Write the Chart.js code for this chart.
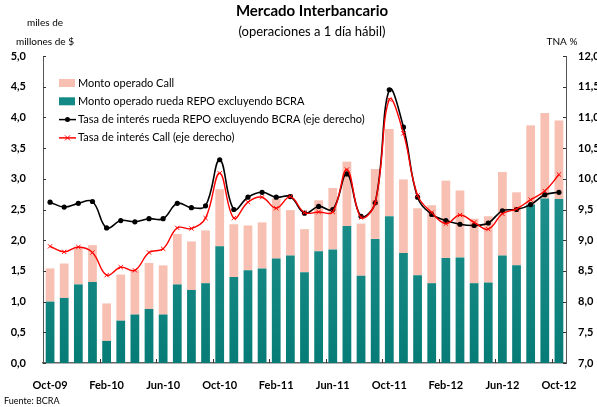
<!DOCTYPE html>
<html>
<head>
<meta charset="utf-8">
<script src="https://cdn.jsdelivr.net/npm/chart.js@4"></script>
<style>
  html, body { margin: 0; padding: 0; background: #fff; }
  #wrap { width: 597px; height: 407px; position: relative; }
</style>
</head>
<body>
<div id="wrap"><canvas id="chart"></canvas></div>
<script>
// months Oct-09 .. Oct-12
const months = ['Oct-09','Nov-09','Dic-09','Ene-10','Feb-10','Mar-10','Abr-10','May-10','Jun-10','Jul-10','Ago-10','Sep-10',
  'Oct-10','Nov-10','Dic-10','Ene-11','Feb-11','Mar-11','Abr-11','May-11','Jun-11','Jul-11','Ago-11','Sep-11',
  'Oct-11','Nov-11','Dic-11','Ene-12','Feb-12','Mar-12','Abr-12','May-12','Jun-12','Jul-12','Ago-12','Sep-12','Oct-12'];
const tickLabels = ['Oct-09','Feb-10','Jun-10','Oct-10','Feb-11','Jun-11','Oct-11','Feb-12','Jun-12','Oct-12'];

// miles de millones de $
const repoMonto = [1.00,1.06,1.28,1.32,0.36,0.69,0.79,0.88,0.79,1.28,1.19,1.30,
  1.90,1.40,1.51,1.54,1.70,1.75,1.48,1.82,1.85,2.23,1.42,2.02,
  2.39,1.79,1.43,1.30,1.71,1.72,1.30,1.31,1.75,1.59,2.58,2.68,2.67];
const callTotal = [1.54,1.62,1.89,1.92,0.97,1.44,1.52,1.63,1.59,2.10,1.98,2.16,
  2.83,2.26,2.24,2.29,2.68,2.49,2.18,2.65,2.85,3.28,2.27,3.16,
  3.81,2.99,2.52,2.57,2.97,2.81,2.35,2.39,3.11,2.78,3.87,4.07,3.95];
const callMonto = callTotal.map((t, i) => +(t - repoMonto[i]).toFixed(2));

// TNA %
const tasaRepo = [9.62,9.54,9.60,9.63,9.20,9.32,9.30,9.35,9.35,9.60,9.53,9.56,
  10.31,9.50,9.70,9.78,9.70,9.71,9.44,9.55,9.50,10.08,9.39,9.61,
  11.45,10.84,9.70,9.42,9.32,9.26,9.24,9.28,9.48,9.50,9.58,9.74,9.78];
const tasaCall = [8.90,8.81,8.89,8.80,8.43,8.56,8.51,8.80,8.86,9.20,9.19,9.36,
  10.09,9.36,9.62,9.70,9.52,9.71,9.45,9.46,9.46,10.15,9.37,9.61,
  11.29,10.74,9.73,9.45,9.27,9.41,9.29,9.18,9.43,9.51,9.66,9.80,10.07];

const FONT = 'Lato, "Open Sans", sans-serif';
const PINK = '#f8c0b2';
const TEAL = '#159089';

function tealGradient(ctx) {
  const area = ctx.chart.chartArea;
  if (!area) return TEAL;
  const g = ctx.chart.ctx.createLinearGradient(0, area.bottom, 0, area.top);
  g.addColorStop(0, '#077c77');
  g.addColorStop(1, '#33a19d');
  return g;
}

// titles, inner ticks, legend and source drawn on the canvas
const decor = {
  id: 'decor',
  afterDraw(chart) {
    const c = chart.ctx;
    const x = chart.scales.x, y = chart.scales.y, y1 = chart.scales.y1;
    const a = chart.chartArea;
    c.save();
    c.fillStyle = '#000';
    c.textBaseline = 'middle';
    c.textAlign = 'center';
    c.font = 'bold 15px ' + FONT;
    c.fillText('Mercado Interbancario', 312, 11);
    c.font = '13px ' + FONT;
    c.fillText('(operaciones a 1 día hábil)', 312, 32);
    c.font = '10px ' + FONT;
    c.fillText('miles de', 45, 23);
    c.fillText('millones de $', 45, 42);
    c.fillText('TNA %', 562, 42);
    c.textAlign = 'left';
    c.font = '9px ' + FONT;
    c.fillText('Fuente: BCRA', 4, 401);

    // inward ticks
    c.strokeStyle = '#333';
    c.lineWidth = 1;
    c.beginPath();
    y.ticks.forEach(t => {
      const py = Math.round(y.getPixelForValue(t.value)) + 0.5;
      c.moveTo(a.left, py); c.lineTo(a.left + 3, py);
    });
    y1.ticks.forEach(t => {
      const py = Math.round(y1.getPixelForValue(t.value)) + 0.5;
      c.moveTo(a.right, py); c.lineTo(a.right - 3, py);
    });
    const step = (x.getPixelForValue(1) - x.getPixelForValue(0));
    for (let i = 4; i < months.length; i += 4) {
      const px = Math.round(x.getPixelForValue(i) - step / 2) + 0.5;
      c.moveTo(px, a.bottom); c.lineTo(px, a.bottom - 4);
    }
    c.stroke();

    // legend
    const lx = 59, ly = 83, gap = 18.3;
    c.font = '11px ' + FONT;
    chart.data.datasets.forEach((ds, i) => {
      const cy = ly + i * gap;
      if (ds.type === 'bar') {
        c.fillStyle = i === 0 ? PINK : '#138a85';
        c.fillRect(lx, cy - 4, 16, 8);
      } else {
        c.strokeStyle = ds.borderColor;
        c.lineWidth = 1.5;
        c.beginPath();
        c.moveTo(lx, cy); c.lineTo(lx + 17, cy);
        c.stroke();
        if (ds.pointStyle === 'crossRot') {
          c.lineWidth = 1;
          c.beginPath();
          c.moveTo(lx + 6, cy - 2.5); c.lineTo(lx + 11, cy + 2.5);
          c.moveTo(lx + 6, cy + 2.5); c.lineTo(lx + 11, cy - 2.5);
          c.stroke();
        } else {
          c.fillStyle = ds.borderColor;
          c.beginPath();
          c.arc(lx + 8.5, cy, 2.5, 0, Math.PI * 2);
          c.fill();
        }
      }
      c.fillStyle = '#000';
      c.fillText(ds.label, lx + 19, cy);
    });
    c.restore();
  }
};

new Chart(document.getElementById('chart'), {
  data: {
    labels: months,
    datasets: [
      { type: 'bar', label: 'Monto operado Call', data: callMonto, backgroundColor: PINK,
        yAxisID: 'y', stack: 's', order: 4, barPercentage: 0.62, categoryPercentage: 1 },
      { type: 'bar', label: 'Monto operado rueda REPO excluyendo BCRA', data: repoMonto, backgroundColor: tealGradient,
        yAxisID: 'y', stack: 's', order: 3, barPercentage: 0.62, categoryPercentage: 1 },
      { type: 'line', label: 'Tasa de interés rueda REPO excluyendo BCRA (eje derecho)', data: tasaRepo,
        yAxisID: 'y1', borderColor: '#000', backgroundColor: '#000', borderWidth: 1.6,
        pointStyle: 'circle', pointRadius: 2.6, pointBorderWidth: 0, tension: 0.4, order: 2 },
      { type: 'line', label: 'Tasa de interés Call (eje derecho)', data: tasaCall,
        yAxisID: 'y1', borderColor: '#ff0000', backgroundColor: '#ff0000', borderWidth: 1.4,
        pointStyle: 'crossRot', pointRadius: 3, pointBorderWidth: 1, tension: 0.4, order: 1 }
    ]
  },
  options: {
    responsive: true,
    maintainAspectRatio: false,
    animation: false,
    layout: { padding: { top: 56, left: 0, right: 0, bottom: 0 } },
    plugins: { legend: { display: false }, tooltip: { enabled: false }, title: { display: false } },
    scales: {
      x: {
        stacked: true,
        offset: true,
        grid: { display: false },
        border: { color: '#666', width: 1.5 },
        afterFit(s) { s.height = 44; },
        ticks: {
          autoSkip: false, maxRotation: 0, padding: 8,
          color: '#000', font: { family: FONT, size: 11, weight: 'bold' },
          callback(v, i) { return i % 4 === 0 ? months[i].replace('Dic', 'Dec') : ''; }
        }
      },
      y: {
        position: 'left',
        stacked: true,
        min: 0, max: 5,
        grid: { display: false },
        border: { color: '#555', width: 1 },
        afterFit(s) { s.width = 43; },
        ticks: {
          stepSize: 0.5, padding: 9, color: '#000',
          font: { family: FONT, size: 11, weight: 'bold' },
          callback(v) { return v.toFixed(1).replace('.', ','); }
        }
      },
      y1: {
        position: 'right',
        min: 7, max: 12,
        grid: { display: false },
        border: { color: '#555', width: 1 },
        afterFit(s) { s.width = 31; },
        ticks: {
          stepSize: 0.5, padding: 4, color: '#000',
          font: { family: FONT, size: 11, weight: 'bold' },
          callback(v) { return v.toFixed(1).replace('.', ','); }
        }
      }
    }
  },
  plugins: [decor]
});
</script>
</body>
</html>
